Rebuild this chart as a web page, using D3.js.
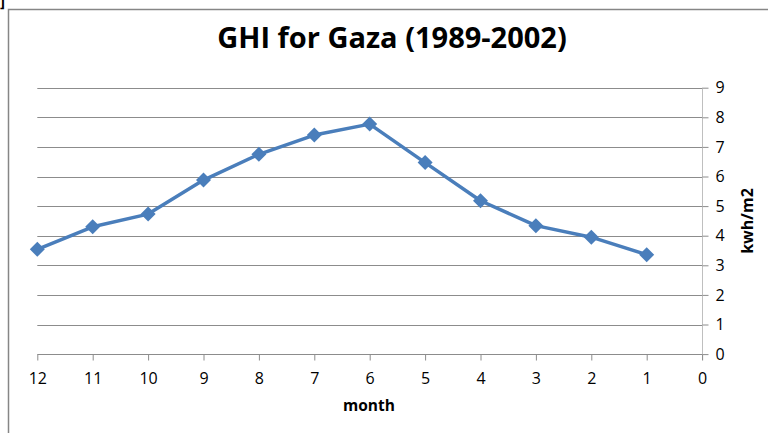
<!DOCTYPE html>
<html lang="en">
<head>
    <meta charset="UTF-8">
    <title>GHI for Gaza</title>
    <style>
        body { margin: 0; background: #fff; font-family: 'Open Sans', sans-serif; }
        svg text { fill: #000; }
    </style>
</head>
<body>
<div id="chart"></div>
<script src="https://d3js.org/d3.v7.min.js"></script>
<script>
    // monthly GHI
    const months = [12, 11, 10, 9, 8, 7, 6, 5, 4, 3, 2, 1];
    const ghi = [3.54, 4.30, 4.73, 5.88, 6.75, 7.40, 7.77, 6.47, 5.18, 4.34, 3.95, 3.36];
    const xTicks = [12, 11, 10, 9, 8, 7, 6, 5, 4, 3, 2, 1, 0];
    const yTicks = [0, 1, 2, 3, 4, 5, 6, 7, 8, 9];

    const width = 768, height = 433;
    const svg = d3.select("#chart").append("svg")
        .attr("width", width)
        .attr("height", height);

    // chart frame (cut off at right and bottom)
    svg.append("path")
        .attr("d", "M8.5,440 V9.5 H780")
        .attr("fill", "none")
        .attr("stroke", "#868686")
        .attr("stroke-width", 1.5);

    // stray bracket from the page above
    svg.append("text")
        .attr("x", 0).attr("y", 7)
        .attr("font-size", 15).attr("font-weight", "bold")
        .text("]");

    const x = d3.scaleLinear().domain([12, 0]).range([37.3, 702.1]);
    const y = d3.scaleLinear().domain([0, 9]).range([354.1, 87.7]);

    // gridlines
    svg.append("g")
        .selectAll("line")
        .data(yTicks.filter(d => d > 0))
        .join("line")
        .attr("x1", x(12)).attr("x2", x(0))
        .attr("y1", d => Math.round(y(d)) + 0.5)
        .attr("y2", d => Math.round(y(d)) + 0.5)
        .attr("stroke", "#8c8c8c");

    // right value axis
    const yAxis = svg.append("g")
        .attr("transform", `translate(${Math.round(x(0)) + 0.5},0)`)
        .call(d3.axisRight(y).tickValues(yTicks).tickSize(6).tickPadding(7).tickFormat(d3.format("d")));
    yAxis.select(".domain").attr("stroke", "#bfbfbf").attr("d", `M0,${y(9)}V${y(0) + 6}`);
    yAxis.selectAll(".tick line").attr("stroke", "#8c8c8c");
    yAxis.selectAll(".tick text").attr("font-size", 16).attr("fill", "#222").attr("font-family", "'Open Sans', sans-serif");

    // bottom category axis
    const xAxis = svg.append("g")
        .attr("transform", `translate(0,${Math.round(y(0)) + 0.5})`)
        .call(d3.axisBottom(x).tickValues(xTicks).tickSize(6).tickPadding(12).tickFormat(d3.format("d")));
    xAxis.select(".domain").attr("stroke", "#8c8c8c").attr("d", `M${x(12)},0H${x(0)}`);
    xAxis.selectAll(".tick line").attr("stroke", "#8c8c8c");
    xAxis.selectAll(".tick text").attr("font-size", 16).attr("fill", "#222").attr("font-family", "'Open Sans', sans-serif");

    // series line
    const pts = months.map((m, i) => [m, ghi[i]]);
    svg.append("path")
        .datum(pts)
        .attr("fill", "none")
        .attr("stroke", "#4a7ebb")
        .attr("stroke-width", 3.5)
        .attr("stroke-linejoin", "round")
        .attr("d", d3.line().x(d => x(d[0])).y(d => y(d[1])));

    // diamond markers
    const r = 7.5;
    svg.append("g")
        .selectAll("path")
        .data(pts)
        .join("path")
        .attr("fill", "#4a7ebb")
        .attr("d", d => {
            const cx = x(d[0]), cy = y(d[1]);
            return `M${cx},${cy - r}L${cx + r},${cy}L${cx},${cy + r}L${cx - r},${cy}Z`;
        });

    // title and axis titles
    svg.append("text")
        .attr("x", 392).attr("y", 48)
        .attr("text-anchor", "middle")
        .attr("font-size", 29).attr("font-weight", "bold")
        .text("GHI for Gaza (1989-2002)");

    svg.append("text")
        .attr("x", 369).attr("y", 411)
        .attr("text-anchor", "middle")
        .attr("font-size", 15.5).attr("font-weight", "bold")
        .text("month");

    svg.append("text")
        .attr("transform", "translate(753,221) rotate(-90)")
        .attr("text-anchor", "middle")
        .attr("font-size", 16).attr("font-weight", "bold")
        .text("kwh/m2");
</script>
</body>
</html>
